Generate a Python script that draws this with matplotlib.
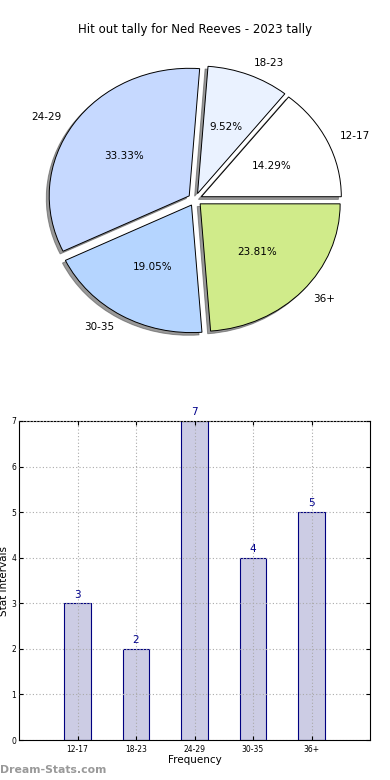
import matplotlib.pyplot as plt

categories = ["12-17", "18-23", "24-29", "30-35", "36+"]
counts = [3, 2, 7, 4, 5]
pie_colors = ["#ffffff", "#eaf2ff", "#c6d9ff", "#b5d5ff", "#d0eb8a"]
yticks = [0, 1, 2, 3, 4, 5, 6, 7]

fig = plt.figure(figsize=(3.9, 7.8), dpi=100)

# pie on top (slightly squashed, like the original)
ax1 = fig.add_axes([0, 1 - 360 / 780, 1, 320 / 780])
ax1.pie(counts, labels=categories, colors=pie_colors, autopct="%.2f%%",
        startangle=0, explode=[0.05] * len(counts),
        shadow={"ox": -0.015, "oy": -0.015, "facecolor": "#555555",
                "edgecolor": "#555555", "alpha": 0.6},
        labeldistance=1.1, pctdistance=0.56,
        wedgeprops={"edgecolor": "black", "linewidth": 0.7},
        textprops={"fontsize": 7.5})
ax1.set_aspect("auto")
ax1.set_xlim(-195 / 140, 195 / 140)
ax1.set_ylim(-1.258, 1.25)
fig.text(0.5, 1 - 30 / 780, "Hit out tally for Ned Reeves - 2023 tally",
         ha="center", va="center", fontsize=8.5)

# bars below
ax2 = fig.add_axes([19 / 390, 40 / 780, 351 / 390, 319 / 780])
x = range(len(categories))
ax2.bar(x, counts, width=0.45, color="#ccccE4", edgecolor="#000080", linewidth=0.8)
for i, v in zip(x, counts):
    ax2.text(i, v + 0.08, str(v), ha="center", va="bottom", color="#00008b",
             fontsize=7.5, clip_on=False)
ax2.set_xlim(-1, 5)
ax2.set_ylim(0, 7)
ax2.set_xticks(list(x))
ax2.set_xticklabels(categories, fontsize=5.5)
ax2.set_yticks(yticks)
ax2.tick_params(axis="y", labelsize=5.5, pad=2)
ax2.tick_params(axis="both", direction="in", top=True, right=True, length=3)
ax2.grid(True, linestyle=(0, (1, 2)), color="#aaaaaa", linewidth=0.8)
ax2.set_axisbelow(False)
ax2.set_xlabel("Frequency", fontsize=7.5, labelpad=1)
ax2.set_ylabel("Stat Intervals", fontsize=7.5, labelpad=2)

fig.text(0.0, 1 - 770 / 780, "Dream-Stats.com", ha="left", va="center",
         color="#999999", fontsize=7.8, fontweight="bold")

fig.savefig("out.png", dpi=100)
